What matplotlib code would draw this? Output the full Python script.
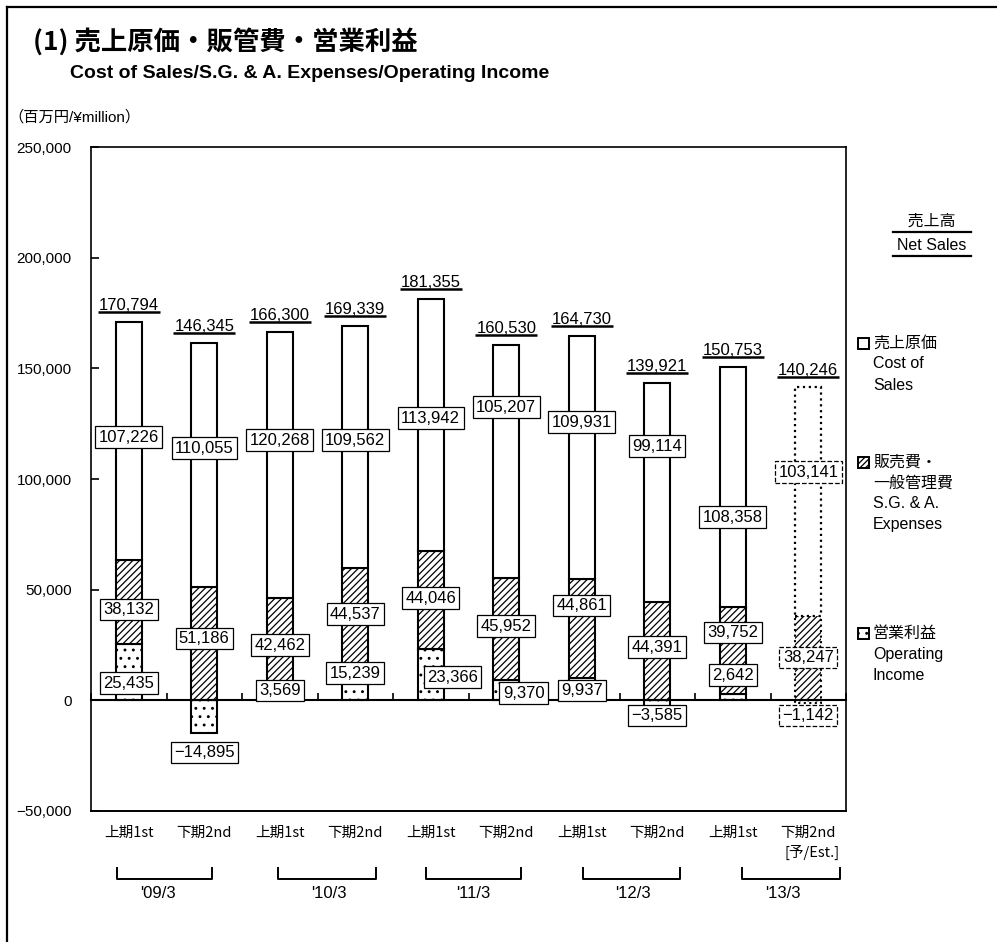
import numpy as np
import matplotlib
matplotlib.use("Agg")
import matplotlib.pyplot as plt
from matplotlib import transforms
from matplotlib.patches import Rectangle
from matplotlib.lines import Line2D
from matplotlib.ticker import FuncFormatter, MultipleLocator

plt.rcParams['font.family'] = ['Liberation Sans', 'Noto Sans CJK JP']
plt.rcParams['hatch.linewidth'] = 0.9

# --- data (百万円) ---
half_labels = ["上期1st", "下期2nd"] * 5
fiscal_years = ["'09/3", "'10/3", "'11/3", "'12/3", "'13/3"]
net_sales = [170794, 146345, 166300, 169339, 181355, 160530, 164730, 139921, 150753, 140246]
cost_of_sales = [107226, 110055, 120268, 109562, 113942, 105207, 109931, 99114, 108358, 103141]
sga_expenses = [38132, 51186, 42462, 44537, 44046, 45952, 44861, 44391, 39752, 38247]
operating_income = [25435, -14895, 3569, 15239, 23366, 9370, 9937, -3585, 2642, -1142]
forecast_idx = 9

# label placement (value units)
cogs_label_y = [118900, 113900, 117500, 117500, 127500, 132500, 125700, 114800, 82700, 103100]
sga_label_y = [41100, 28000, 24900, 38900, 46100, 33500, 42900, 24000, 30700, 19400]
op_label_y = [7700, -23500, 4500, 12200, 10400, 3200, 4500, -6800, 11300, -6800]
op_label_dx = [0, 0, 0, 0, 0.29, 0.23, 0, 0, 0, 0]

# bracket spans for the fiscal years (x in category units)
year_spans = [(-0.16, 1.10), (1.98, 3.28), (3.94, 5.20), (6.02, 7.30), (8.12, 9.42)]
year_label_x = [0.39, 2.65, 4.56, 6.68, 8.67]

W, H = 997, 942
fig = plt.figure(figsize=(W / 100, H / 100), dpi=100)


def fx(px):
    return px / W


def fy(py):
    return 1 - py / H


# outer frame (top + left only, rest is cropped)
fig.add_artist(Line2D([fx(7), fx(7)], [0, fy(7)], transform=fig.transFigure, color='black', lw=1.6))
fig.add_artist(Line2D([fx(7), 1], [fy(7), fy(7)], transform=fig.transFigure, color='black', lw=1.6))

# titles
fig.text(fx(33), fy(42), "(1) 売上原価・販管費・営業利益", fontsize=19, fontweight='bold',
         va='center', ha='left', family=['Noto Sans CJK JP'])
fig.text(fx(70), fy(73), "Cost of Sales/S.G. & A. Expenses/Operating Income", fontsize=14,
         fontweight='bold', va='center', ha='left')
fig.text(fx(8), fy(117), "（百万円/¥million）", fontsize=11, va='center', ha='left')

ax = fig.add_axes([fx(91), fy(811), fx(846) - fx(91), (811 - 147) / H])
ax.set_xlim(-0.5, 9.5)
ax.set_ylim(-50000, 250000)

x = np.arange(len(net_sales))
width = 0.345
op_bottom = np.zeros(len(x))
sga_bottom = np.array([max(o, 0) for o in operating_income])
cogs_bottom = sga_bottom + np.array(sga_expenses)
tops = cogs_bottom + np.array(cost_of_sales)

actual = x != forecast_idx
fc = x == forecast_idx

# actual bars
ax.bar(x[actual], np.array(operating_income)[actual], width, bottom=op_bottom[actual],
       color='white', edgecolor='black', lw=1.5, hatch='..', zorder=2)
ax.bar(x[actual], np.array(sga_expenses)[actual], width, bottom=sga_bottom[actual],
       color='white', edgecolor='black', lw=1.5, hatch='/////', zorder=2)
ax.bar(x[actual], np.array(cost_of_sales)[actual], width, bottom=cogs_bottom[actual],
       color='white', edgecolor='black', lw=1.5, zorder=2)

# forecast bar (dotted)
ax.bar(x[fc], np.array(operating_income)[fc], width, bottom=op_bottom[fc],
       color='white', edgecolor='black', lw=1.5, ls=':', hatch='..', zorder=2)
ax.bar(x[fc], np.array(sga_expenses)[fc], width, bottom=sga_bottom[fc],
       color='white', edgecolor='black', lw=1.5, ls=':', hatch='/////', zorder=2)
ax.bar(x[fc], np.array(cost_of_sales)[fc], width, bottom=cogs_bottom[fc],
       color='white', edgecolor='black', lw=1.6, ls=':', zorder=2)


def fmt(v):
    return f"{v:,}".replace("-", "−")


def boxed(xv, yv, val, dashed):
    ax.text(xv, yv, fmt(val), ha='center', va='center', fontsize=12, zorder=5,
            bbox=dict(boxstyle='square,pad=0.2', fc='white', ec='black', lw=0.9,
                      ls='--' if dashed else '-'))


under_tr = transforms.offset_copy(ax.transData, fig=fig, y=10, units='dots')
text_tr = transforms.offset_copy(ax.transData, fig=fig, y=12, units='dots')
for i in x:
    dashed = i == forecast_idx
    boxed(i, cogs_label_y[i], cost_of_sales[i], dashed)
    boxed(i, sga_label_y[i], sga_expenses[i], dashed)
    boxed(i + op_label_dx[i], op_label_y[i], operating_income[i], dashed)
    ax.plot([i - 0.41, i + 0.41], [tops[i], tops[i]], transform=under_tr,
            color='black', lw=1.8, clip_on=False, solid_capstyle='butt')
    ax.text(i, tops[i], fmt(net_sales[i]), transform=text_tr, ha='center',
            va='baseline', fontsize=12)

# axes styling: box around plot, x axis at zero
for s in ['top', 'right', 'left']:
    ax.spines[s].set_linewidth(1.2)
ax.spines['bottom'].set_position(('data', 0))
ax.spines['bottom'].set_linewidth(1.5)
ax.plot([0, 1], [0, 0], transform=ax.transAxes, color='black', lw=1.4, clip_on=False)

ax.set_xticks(np.arange(-0.5, 10, 1))
ax.tick_params(axis='x', direction='in', length=5, width=1.2, labelbottom=False)
ax.yaxis.set_major_locator(MultipleLocator(50000))
ax.yaxis.set_major_formatter(FuncFormatter(lambda v, p: fmt(int(v))))
ax.tick_params(axis='y', direction='in', length=6, width=1.2, labelsize=11, pad=14)

# category labels and fiscal-year brackets under the plot
bt = transforms.blended_transform_factory(ax.transData, fig.transFigure)
for i, lab in enumerate(half_labels):
    ax.text(i, fy(833), lab, transform=bt, ha='center', va='center', fontsize=10.5,
            family=['Noto Sans CJK JP'])
ax.text(forecast_idx + 0.05, fy(852), "[予/Est.]", transform=bt, ha='center', va='center',
        fontsize=10.5, family=['Noto Sans CJK JP'])
for (a, b), xl, yr in zip(year_spans, year_label_x, fiscal_years):
    ax.plot([a, a, b, b], [fy(868), fy(879), fy(879), fy(868)], transform=bt,
            color='black', lw=1.4, clip_on=False)
    ax.text(xl, fy(893), yr, transform=bt, ha='center', va='center', fontsize=12)

# right-hand legend
fig.text(fx(932), fy(221), " 売上高 ", fontsize=11.5, ha='center', va='center',
         family=['Noto Sans CJK JP'])
fig.text(fx(932), fy(245), "Net Sales", fontsize=11.5, ha='center', va='center')
for yy in (232, 256):
    fig.add_artist(Line2D([fx(893), fx(971)], [fy(yy), fy(yy)], transform=fig.transFigure,
                          color='black', lw=1.6))

legend_items = [
    (343, ["売上原価", "Cost of", "Sales"], None),
    (462, ["販売費・", "一般管理費", "S.G. & A.", "Expenses"], '//////'),
    (633, ["営業利益", "Operating", "Income"], '..'),
]
for y0, lines, hatch in legend_items:
    fig.add_artist(Rectangle((fx(858), fy(y0 + 6)), fx(11), 11 / H, transform=fig.transFigure,
                             fc='white', ec='black', lw=1.4, hatch=hatch))
    for k, t in enumerate(lines):
        fig.text(fx(873), fy(y0 + k * 21), t, fontsize=11.5, ha='left', va='center')

fig.savefig("out.png", dpi=100)
